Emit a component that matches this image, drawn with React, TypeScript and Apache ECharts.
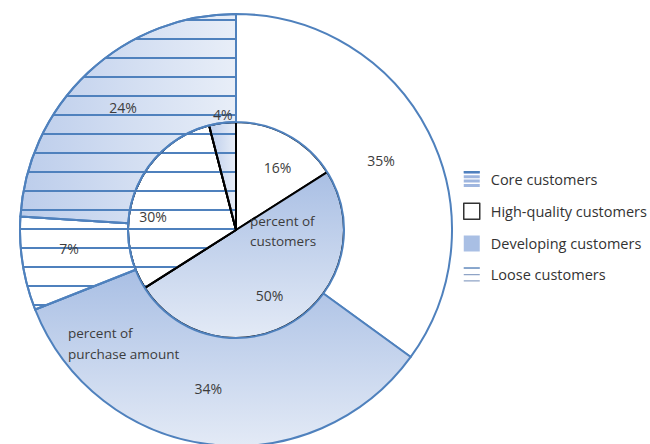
import React, { useEffect, useRef } from 'react';
import * as echarts from 'echarts';

// ---- data ----
const categories = ['High-quality customers', 'Developing customers', 'Loose customers', 'Core customers'];
const customerShare = [16, 50, 30, 4]; // inner pie: percent of customers
const purchaseShare = [35, 34, 7, 24]; // outer ring: percent of purchase amount
const legendOrder = ['Core customers', 'High-quality customers', 'Developing customers', 'Loose customers'];
const innerTitle = 'percent of\ncustomers';
const outerTitle = 'percent of\npurchase amount';

// ---- styling ----
const BLUE = '#4f81bd';
const TEXT = '#3c3c3c';
const FONT = 'Open Sans';
const innerLabelShift = [[14, -13], [3, 17], [-30, 7], [-6, -59]];
const outerLabelShift = [[-2, 5], [-7, -5], [-4, -7], [0, -2]];

const hatch = {
  symbol: 'rect',
  symbolSize: 1,
  dashArrayX: [200, 0],
  dashArrayY: [1.5, 16.5],
  rotation: 0,
  color: BLUE,
};

function styleFor(name: string): any {
  if (name === 'High-quality customers') return { color: '#ffffff' };
  if (name === 'Developing customers')
    return {
      color: new echarts.graphic.LinearGradient(0, 0, 0, 1, [
        { offset: 0, color: '#a9bfe4' },
        { offset: 1, color: '#e3eaf6' },
      ]),
    };
  if (name === 'Loose customers') return { color: '#ffffff', decal: hatch };
  return {
    color: new echarts.graphic.LinearGradient(0, 0, 1, 0, [
      { offset: 0, color: '#bccdeb' },
      { offset: 1, color: '#e8eef8' },
    ]),
    decal: hatch,
  };
}

const legendIcons: Record<string, any> = {
  'Core customers': {
    icon: 'path://M0,0H16V3H0Z M0,4.3H16V7.3H0Z M0,8.6H16V11.6H0Z M0,12.9H16V16H0Z',
    itemStyle: { color: '#9fb6df', borderWidth: 0 },
  },
  'High-quality customers': {
    icon: 'rect',
    itemStyle: { color: '#ffffff', borderColor: '#333333', borderWidth: 1.5 },
  },
  'Developing customers': {
    icon: 'rect',
    itemStyle: { color: '#a9bfe4', borderWidth: 0 },
  },
  'Loose customers': {
    icon: 'path://M0,1H16V2.3H0Z M0,7.4H16V8.7H0Z M0,13.7H16V15H0Z',
    itemStyle: { color: '#8fa4c6', borderWidth: 0 },
  },
};

export default function App() {
  const ref = useRef<HTMLDivElement>(null);
  useEffect(() => {
    document.body.style.margin = '0';
    const chart = echarts.init(ref.current!, null, { renderer: 'svg' });
    const center = [236, 230];
    const labelBase = {
      show: true,
      position: 'inside',
      formatter: '{c}%',
      fontFamily: FONT,
      fontSize: 14,
      color: TEXT,
    };
    chart.setOption({
      animation: false,
      backgroundColor: '#ffffff',
      legend: {
        orient: 'vertical',
        left: 458,
        top: 166,
        itemWidth: 16,
        itemHeight: 16,
        itemGap: 15.5,
        textStyle: { fontFamily: FONT, fontSize: 14.5, color: '#333', padding: [0, 0, 0, 6] },
        data: legendOrder.map((n) => ({ name: n, ...legendIcons[n] })),
      },
      series: [
        {
          type: 'pie',
          name: 'percent of customers',
          center,
          radius: [0, 108],
          startAngle: 90,
          clockwise: true,
          silent: true,
          itemStyle: { borderColor: '#000', borderWidth: 2 },
          label: labelBase,
          labelLine: { show: false },
          labelLayout: (p: any) => {
            const s = innerLabelShift[p.dataIndex];
            return { dx: s[0], dy: s[1] };
          },
          data: categories.map((n, i) => ({ name: n, value: customerShare[i], itemStyle: styleFor(n) })),
        },
        {
          type: 'pie',
          name: 'percent of purchase amount',
          center,
          radius: [108, 216],
          startAngle: 90,
          clockwise: true,
          silent: true,
          itemStyle: { borderColor: BLUE, borderWidth: 2 },
          label: labelBase,
          labelLine: { show: false },
          labelLayout: (p: any) => {
            const s = outerLabelShift[p.dataIndex];
            return { dx: s[0], dy: s[1] };
          },
          data: categories.map((n, i) => ({ name: n, value: purchaseShare[i], itemStyle: styleFor(n) })),
        },
      ],
      graphic: [
        {
          type: 'text',
          left: 250,
          top: 211,
          z: 100,
          style: { text: innerTitle, fontFamily: FONT, fontSize: 13.5, fill: TEXT, lineHeight: 20, align: 'center' },
        },
        {
          type: 'text',
          left: 68,
          top: 322,
          z: 100,
          style: { text: outerTitle, fontFamily: FONT, fontSize: 13.5, fill: TEXT, lineHeight: 21 },
        },
      ],
    });
    return () => chart.dispose();
  }, []);
  return <div ref={ref} style={{ width: 650, height: 444 }} />;
}
